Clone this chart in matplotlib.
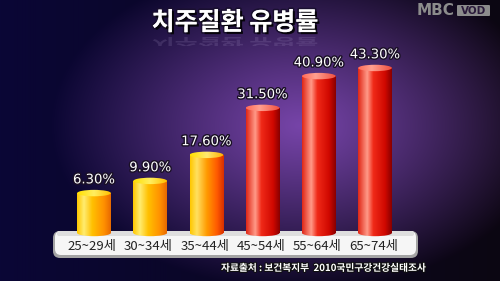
import numpy as np
import matplotlib
matplotlib.use("Agg")
import matplotlib.pyplot as plt
import matplotlib.patheffects as pe
from matplotlib.colors import to_rgb
from matplotlib.patches import Ellipse, FancyBboxPatch, PathPatch, Rectangle
from matplotlib.textpath import TextPath
from matplotlib.font_manager import FontProperties
from matplotlib.transforms import Affine2D

plt.rcParams["font.family"] = ["Noto Sans CJK KR", "DejaVu Sans"]

# data
title = "치주질환 유병률"
source = "자료출처 : 보건복지부  2010국민구강건강실태조사"
age_groups = ["25~29세", "30~34세", "35~44세", "45~54세", "55~64세", "65~74세"]
rates = [6.3, 9.9, 17.6, 31.5, 40.9, 43.3]
rate_labels = ["6.30%", "9.90%", "17.60%", "31.50%", "40.90%", "43.30%"]
bar_styles = ["yellow", "yellow", "orange", "red", "red", "red"]

W, H = 500, 281


def gradient(stops, n=64):
    pos = np.array([s[0] for s in stops])
    cols = np.array([to_rgb(s[1]) for s in stops])
    t = np.linspace(0, 1, n)
    rgb = np.stack([np.interp(t, pos, cols[:, k]) for k in range(3)], axis=-1)
    return rgb[None, :, :]


body_grad = {
    "yellow": gradient([(0, "#ffc800"), (0.2, "#ffec70"), (0.45, "#ffc000"),
                        (0.8, "#ff9000"), (1, "#e86a00")]),
    "orange": gradient([(0, "#ffc800"), (0.2, "#ffe060"), (0.5, "#ff9a00"),
                        (0.8, "#ff5a00"), (1, "#d83000")]),
    "red": gradient([(0, "#e02818"), (0.27, "#ff9a88"), (0.45, "#f02a18"),
                     (0.8, "#d00800"), (1, "#8a0000")]),
}
top_grad = {
    "yellow": gradient([(0, "#ffe000"), (0.5, "#ffee60"), (1, "#ffc000")]),
    "orange": gradient([(0, "#ffe000"), (0.5, "#ffe870"), (1, "#ffb000")]),
    "red": gradient([(0, "#ff6a58"), (0.4, "#ffa090"), (1, "#f05040")]),
}

fig = plt.figure(figsize=(W / 100, H / 100), dpi=100)

# background: purple glow
bg = fig.add_axes([0, 0, 1, 1])
bg.axis("off")
yy, xx = np.mgrid[0:H, 0:W]
d = np.sqrt(((xx - 300) / 250.0) ** 2 + ((yy - 125) / 165.0) ** 2)
t = (np.clip(d, 0, 1) ** 1.1)[..., None]
hx = (xx / W)[..., None]
edge = np.array(to_rgb("#0a0636")) * (1 - hx) + np.array(to_rgb("#0c0612")) * hx
img = np.array(to_rgb("#7644a8")) * (1 - t) + edge * t
bg.imshow(img, extent=[0, W, 0, H], origin="upper", aspect="auto")
bg.set_xlim(0, W)
bg.set_ylim(0, H)

# platform under the bars
bg.add_patch(FancyBboxPatch((53, H - 258), 365, 27, boxstyle="round,pad=0,rounding_size=7",
                            fc="#a4a4a4", ec="none"))
bg.add_patch(FancyBboxPatch((55, H - 255), 361, 24, boxstyle="round,pad=0,rounding_size=6",
                            fc="#f6f6f6", ec="none"))
bg.add_patch(FancyBboxPatch((57, H - 236), 357, 5, boxstyle="round,pad=0,rounding_size=2",
                            fc="#dedede", ec="none"))

# title with shadow and faded reflection
bg.text(235, H - 23, title, fontsize=18, weight="bold", color="white", ha="center", va="center",
        path_effects=[pe.withStroke(linewidth=2.5, foreground="#1a1030"),
                      pe.SimplePatchShadow(offset=(1.5, -1.5), shadow_rgbFace="black", alpha=0.8),
                      pe.Normal()])
fp = FontProperties(family="Noto Sans CJK KR", weight="bold", size=18)
tp = TextPath((0, 0), title, prop=fp)
bb = tp.get_extents()
refl = Affine2D().translate(-bb.x0 - bb.width / 2, 0).scale(100 / 72, -100 / 72 * 0.55) \
    .translate(235, H - 38)
clip = Rectangle((150, H - 46), 170, 9, transform=bg.transData)
rp = PathPatch(refl.transform_path(tp), fc="#b8a8d8", ec="none", alpha=0.16)
bg.add_patch(rp)
rp.set_clip_path(clip)

# logo
bg.text(436, H - 10.5, "MBC", fontsize=11, weight="bold", color="#8c8c8c", family="DejaVu Sans",
        ha="center", va="center")
bg.add_patch(FancyBboxPatch((457, H - 16), 33, 11, boxstyle="round,pad=0,rounding_size=1",
                            fc="#8c8c8c", ec="none"))
bg.text(473.5, H - 10.5, "VOD", fontsize=7.5, weight="bold", color="#2a1a3a", family="DejaVu Sans",
        ha="center", va="center")

# source note
bg.text(324, H - 268, source, fontsize=7, weight="bold", color="white", ha="center", va="center",
        path_effects=[pe.withStroke(linewidth=1.5, foreground="#101010")])

# bars
ax = fig.add_axes([0, 0, 1, 1])
ax.axis("off")
ax.patch.set_alpha(0)
x = np.arange(len(rates))
base = -5.5
width = 0.6
eh = 1.9
bars = ax.bar(x, np.array(rates) - base, bottom=base, width=width, color="none", edgecolor="none")

for xi, bar, v, style, lab, cat in zip(x, bars, rates, bar_styles, rate_labels, age_groups):
    x0, x1 = xi - width / 2, xi + width / 2
    low = Ellipse((xi, base), width, eh, fc="none", ec="none")
    ax.add_patch(low)
    im = ax.imshow(body_grad[style], extent=[x0, x1, base - eh, v], aspect="auto", zorder=3)
    im.set_clip_path(low)
    im = ax.imshow(body_grad[style], extent=[x0, x1, base, v], aspect="auto", zorder=3)
    im.set_clip_path(bar)
    cap = Ellipse((xi, v), width, eh, fc="none", ec="none")
    ax.add_patch(cap)
    im = ax.imshow(top_grad[style], extent=[x0, x1, v - eh, v + eh], aspect="auto", zorder=4)
    im.set_clip_path(cap)

    ax.text(xi, v + 3.9, lab, ha="center", va="center", color="white", fontsize=9.5,
            family="DejaVu Sans", zorder=5,
            path_effects=[pe.withStroke(linewidth=2, foreground="#1a1025")])
    ax.text(xi - 0.03, -9.6, cat, ha="center", va="center", color="#222222", fontsize=9.5, zorder=5)

ax.set_xlim(-1.673, 7.224)
ax.set_ylim(-19.7, 63.4)

fig.savefig("out.png", dpi=100)
